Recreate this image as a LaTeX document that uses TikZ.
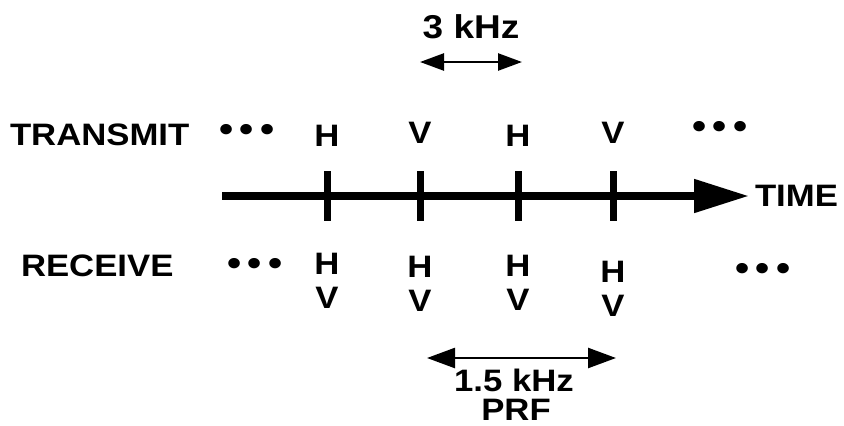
\documentclass[tikz,border=0pt]{standalone}
\usepackage{fontspec}
\setmainfont[FakeStretch=1.12]{Liberation Sans}
\usetikzlibrary{arrows.meta}
\tikzset{
  lbl/.style={font=\fontsize{31}{34}\selectfont\bfseries, inner sep=0pt, outer sep=0pt},
  big/.style={font=\fontsize{33}{36}\selectfont\bfseries, inner sep=0pt, outer sep=0pt},
  dots/.style={font=\fontsize{36}{40}\selectfont\bfseries, inner sep=0pt},
  axis/.style={line width=8pt, -{Triangle[length=55pt, width=32pt]}},
  tick/.style={line width=7pt},
  dim/.style={line width=2.5pt, {Triangle[length=24pt, width=17pt]}-{Triangle[length=24pt, width=17pt]}},
  dimb/.style={line width=2.5pt, {Triangle[length=28pt, width=20pt]}-{Triangle[length=28pt, width=20pt]}},
}
\begin{document}
\begin{tikzpicture}[x=1pt, y=-1pt]
\useasboundingbox (0,0) rectangle (844,426);
% top dimension
\node[big] (f3) at (471,27) {3 kHz};
\coordinate (d1a) at (420,62);
\coordinate (d1b) at (522,62);
\draw[dim] (d1a) -- (d1b);
% transmit row
\node[lbl, anchor=west] (tx) at (10,135) {TRANSMIT};
\node[dots] (tdl) at (247,133) {•\hspace{6pt}•\hspace{6pt}•};
\node[lbl] (t1) at (327,136) {H};
\node[lbl] (t2) at (420,133) {V};
\node[lbl] (t3) at (518,136) {H};
\node[lbl] (t4) at (613,133) {V};
\node[dots] (tdr) at (720,130) {•\hspace{6pt}•\hspace{6pt}•};
% axis
\coordinate (a0) at (222,196);
\coordinate (a1) at (749,196);
\draw[axis] (a0) -- (a1);
\node[lbl, anchor=west] (time) at (755,196) {TIME};
\foreach \i/\x in {1/327,2/420,3/518,4/613}{
  \coordinate (k\i a) at (\x,171);
  \coordinate (k\i b) at (\x,221);
  \draw[tick] (k\i a) -- (k\i b);
}
% receive row
\node[lbl, anchor=west] (rx) at (21,266) {RECEIVE};
\node[dots] (rdl) at (255,267) {•\hspace{6pt}•\hspace{6pt}•};
\node[lbl, align=center] (r1) at (327,281) {H\\V};
\node[lbl, align=center] (r2) at (420,284) {H\\V};
\node[lbl, align=center] (r3) at (518,283) {H\\V};
\node[lbl, align=center] (r4) at (613,289) {H\\V};
\node[dots] (rdr) at (763,272) {•\hspace{6pt}•\hspace{6pt}•};
% PRF dimension
\coordinate (d2a) at (427,358);
\coordinate (d2b) at (616,358);
\draw[dimb] (d2a) -- (d2b);
\node[lbl] (f15) at (514,380) {1.5 kHz};
\node[lbl] (prf) at (516,410) {PRF};
\end{tikzpicture}
\end{document}
